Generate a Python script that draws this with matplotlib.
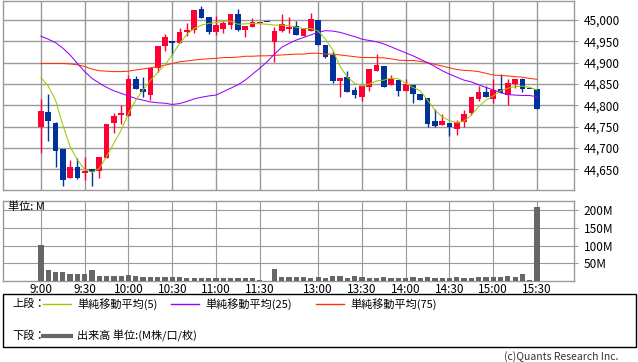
import matplotlib
matplotlib.use("Agg")
import matplotlib.pyplot as plt
from matplotlib.lines import Line2D
from matplotlib.patches import Rectangle
import numpy as np

plt.rcParams['font.family'] = ['Noto Sans CJK JP', 'DejaVu Sans']

# 5分足 (前場 9:00-11:30, 後場 12:25-15:30)
times = []
for h in range(9, 12):
	for m in range(0, 60, 5):
		if h == 11 and m > 30:
			break
		times.append("%d:%02d" % (h, m))
for h in range(12, 16):
	for m in range(0, 60, 5):
		if (h == 12 and m < 25) or (h == 15 and m > 30):
			continue
		times.append("%d:%02d" % (h, m))

opens = [44750, 44784, 44759, 44698, 44630, 44655, 44641, 44650, 44645, 44677,
	44759, 44778, 44776, 44862, 44838, 44824, 44888, 44939, 44951, 44947,
	44972, 44977, 45026, 45007, 44972, 44980, 44989, 45014, 44977, 44984,
	44993, 44995, 44949, 44975, 44980, 44986, 44963, 44975, 45000, 44941,
	44918, 44858, 44866, 44836, 44820, 44842, 44881, 44892, 44848, 44859,
	44834, 44848, 44827, 44817, 44763, 44755, 44758, 44745, 44762, 44781,
	44815, 44831, 44814, 44838, 44824, 44850, 44862, 44838, 44838]
highs = [44815, 44827, 44762, 44698, 44672, 44677, 44680, 44650, 44679, 44756,
	44781, 44800, 44871, 44869, 44866, 44888, 44939, 44968, 44951, 44981,
	44993, 45023, 45033, 45007, 45010, 44998, 45014, 45026, 44985, 45005,
	44995, 44995, 44983, 45014, 45008, 44998, 44980, 45017, 45000, 44941,
	44928, 44864, 44881, 44842, 44846, 44885, 44920, 44892, 44870, 44859,
	44861, 44848, 44827, 44817, 44791, 44780, 44758, 44766, 44789, 44819,
	44846, 44845, 44861, 44873, 44862, 44862, 44865, 44838, 44838]
lows = [44689, 44717, 44656, 44612, 44630, 44627, 44624, 44612, 44629, 44677,
	44734, 44756, 44776, 44838, 44819, 44812, 44879, 44928, 44918, 44947,
	44962, 44970, 45005, 44968, 44965, 44970, 44980, 44975, 44959, 44984,
	44993, 44995, 44902, 44973, 44969, 44965, 44963, 44975, 44941, 44912,
	44853, 44820, 44832, 44818, 44809, 44834, 44881, 44844, 44848, 44823,
	44834, 44805, 44813, 44750, 44750, 44755, 44727, 44731, 44748, 44777,
	44811, 44820, 44805, 44830, 44801, 44840, 44832, 44838, 44791]
closes = [44787, 44764, 44694, 44625, 44655, 44630, 44646, 44644, 44679, 44756,
	44775, 44782, 44862, 44838, 44832, 44888, 44939, 44960, 44945, 44972,
	44977, 45023, 45005, 44972, 44989, 44993, 45014, 44977, 44985, 44995,
	44995, 44995, 44974, 44991, 44984, 44965, 44978, 45002, 44941, 44914,
	44858, 44864, 44832, 44825, 44846, 44885, 44895, 44844, 44862, 44834,
	44850, 44827, 44813, 44757, 44752, 44763, 44749, 44762, 44780, 44819,
	44831, 44820, 44837, 44830, 44852, 44862, 44838, 44838, 44791]

# 出来高 (M)
volumes = [102, 30.5, 25.7, 25.7, 19, 19, 19, 30.5, 13.3, 13.3,
	13.3, 13.3, 16.2, 13.3, 10.5, 10.5, 10.5, 10.5, 10.5, 10.5,
	7.6, 7.6, 7.6, 7.6, 7.6, 7.6, 7.6, 7.6, 7.6, 7.6,
	1.5, 0, 33, 10.5, 10.5, 10.5, 10.5, 7.6, 10.5, 7.6,
	13.3, 13.3, 7.6, 13.3, 10.5, 7.6, 7.6, 10.5, 7.6, 7.6,
	7.6, 10.5, 7.6, 10.5, 7.6, 7.6, 7.6, 10.5, 7.6, 7.6,
	10.5, 10.5, 10.5, 10.5, 13.3, 10.5, 19, 1.5, 209.5]

sma5 = [44865, 44845, 44812, 44754, 44703, 44672, 44650, 44643, 44652, 44680,
	44711, 44742, 44781, 44812, 44836, 44858, 44877, 44895, 44918, 44945,
	44966, 44980, 44988, 44992, 44994, 44997, 44997, 44990, 44991, 44992,
	44991, 44990, 44988, 44988, 44987, 44983, 44980, 44980, 44974, 44955,
	44930, 44891, 44866, 44852, 44845, 44850, 44857, 44859, 44864, 44862,
	44852, 44842, 44834, 44812, 44789, 44773, 44764, 44759, 44763, 44777,
	44797, 44812, 44822, 44834, 44840, 44844, 44845, 44842, 44836]
sma25 = [44962, 44955, 44947, 44934, 44918, 44898, 44879, 44863, 44852, 44842,
	44834, 44828, 44822, 44816, 44812, 44808, 44806, 44805, 44802, 44804,
	44809, 44815, 44819, 44822, 44824, 44832, 44840, 44848, 44859, 44873,
	44887, 44902, 44920, 44936, 44945, 44953, 44959, 44965, 44971, 44975,
	44974, 44971, 44966, 44961, 44955, 44952, 44949, 44944, 44937, 44930,
	44923, 44916, 44908, 44900, 44891, 44881, 44873, 44866, 44859, 44855,
	44848, 44842, 44836, 44830, 44825, 44824, 44823, 44823, 44820]
sma75 = [44898, 44898, 44898, 44898, 44897, 44895, 44891, 44885, 44881, 44880,
	44879, 44879, 44880, 44883, 44885, 44888, 44891, 44894, 44898, 44902,
	44904, 44906, 44908, 44909, 44910, 44912, 44912, 44913, 44915, 44915,
	44916, 44916, 44917, 44918, 44919, 44920, 44920, 44922, 44922, 44920,
	44920, 44918, 44916, 44914, 44912, 44912, 44912, 44911, 44909, 44906,
	44905, 44905, 44903, 44900, 44896, 44892, 44888, 44884, 44882, 44881,
	44879, 44875, 44871, 44870, 44869, 44867, 44866, 44863, 44861]

tick_labels = ["9:00", "9:30", "10:00", "10:30", "11:00", "11:30",
	"13:00", "13:30", "14:00", "14:30", "15:00", "15:30"]
price_ticks = [44650, 44700, 44750, 44800, 44850, 44900, 44950, 45000]
vol_ticks = [50, 100, 150, 200]

RED = '#ff0033'
BLUE = '#003399'
GRID = '#999999'

W, H = 638, 362
fig = plt.figure(figsize=(W / 100, H / 100), dpi=100)

def px(x, y):
	return x / W, 1 - y / H

ax_p = fig.add_axes([3 / W, 1 - 190 / H, 571 / W, 189 / H])
ax_v = fig.add_axes([3 / W, 1 - 281 / H, 571 / W, 80 / H])

xs = np.arange(len(times))
o = np.array(opens)
c = np.array(closes)
up = c > o
colors = np.where(up, RED, BLUE)
tick_pos = [times.index(t) for t in tick_labels]

# 上段: ローソク足
ax_p.vlines(xs, lows, highs, colors=colors, linewidth=1.0, zorder=2)
body_lo = np.minimum(o, c)
body_h = np.maximum(np.abs(c - o), 2.5)
ax_p.bar(xs, body_h, bottom=body_lo, width=0.78, color=colors, linewidth=0, zorder=3)
ax_p.plot(xs, sma75, color='#ff3300', linewidth=0.75, zorder=4)
ax_p.plot(xs, sma25, color='#9900ff', linewidth=0.75, zorder=4)
ax_p.plot(xs, sma5, color='#99cc00', linewidth=0.75, zorder=5)

ax_p.set_xlim(-5.2, 73.07)
ax_p.set_ylim(44601.5, 45044.5)
ax_p.set_xticks(tick_pos)
ax_p.set_xticklabels([])
ax_p.set_yticks(price_ticks)
ax_p.set_yticklabels(["{:,}".format(v) for v in price_ticks])
ax_p.yaxis.tick_right()
ax_p.tick_params(axis='y', length=3, width=0.8, color=GRID, pad=4, labelsize=8.5)
ax_p.tick_params(axis='x', length=0)
ax_p.grid(True, color=GRID, linewidth=1.0)
ax_p.set_axisbelow(True)

# 下段: 出来高
ax_v.bar(xs, volumes, width=0.72, color='#666666', linewidth=0, zorder=3)
ax_v.set_xlim(-5.2, 73.07)
ax_v.set_ylim(-1, 227)
ax_v.set_xticks(tick_pos)
ax_v.set_xticklabels(tick_labels)
ax_v.set_yticks(vol_ticks)
ax_v.set_yticklabels(["%dM" % v for v in vol_ticks])
ax_v.yaxis.tick_right()
ax_v.tick_params(axis='y', length=3, width=0.8, color=GRID, pad=4, labelsize=8.5)
ax_v.tick_params(axis='x', length=0, pad=1.5, labelsize=8.5)
ax_v.grid(True, color=GRID, linewidth=0.8)
ax_v.set_axisbelow(True)
ax_v.text(0.008, 0.93, "単位: M", transform=ax_v.transAxes, fontsize=8, va='center', ha='left', zorder=6)

for ax in (ax_p, ax_v):
	for s in ax.spines.values():
		s.set_color(GRID)
		s.set_linewidth(1.0)

# 凡例
x0, y0 = px(3, 294)
x1, y1 = px(636, 347)
fig.add_artist(Rectangle((x0, y1), x1 - x0, y0 - y1, transform=fig.transFigure,
	fill=False, edgecolor='black', linewidth=1.0))

def legend_item(xl, y, color, lw, label):
	a, b = px(xl, y)
	e, _ = px(xl + 28, y)
	fig.add_artist(Line2D([a, e], [b, b], color=color, linewidth=lw, transform=fig.transFigure))
	t, _ = px(xl + 34, y)
	fig.text(t, b, label, fontsize=8, va='center', ha='left')

fig.text(*px(12, 304), "上段：", fontsize=8, va='center', ha='left')
legend_item(43, 304, '#99cc00', 1.0, "単純移動平均(5)")
legend_item(171, 304, '#9900ff', 1.0, "単純移動平均(25)")
legend_item(316, 304, '#ff3300', 1.0, "単純移動平均(75)")
fig.text(*px(12, 336), "下段：", fontsize=8, va='center', ha='left')
legend_item(43, 336, '#666666', 3.0, "出来高 単位:(M株/口/枚)")

fig.text(*px(618, 357), "(c)Quants Research Inc.", fontsize=7.5, va='center', ha='right', color='#333333')

fig.savefig("out.png", dpi=100)
